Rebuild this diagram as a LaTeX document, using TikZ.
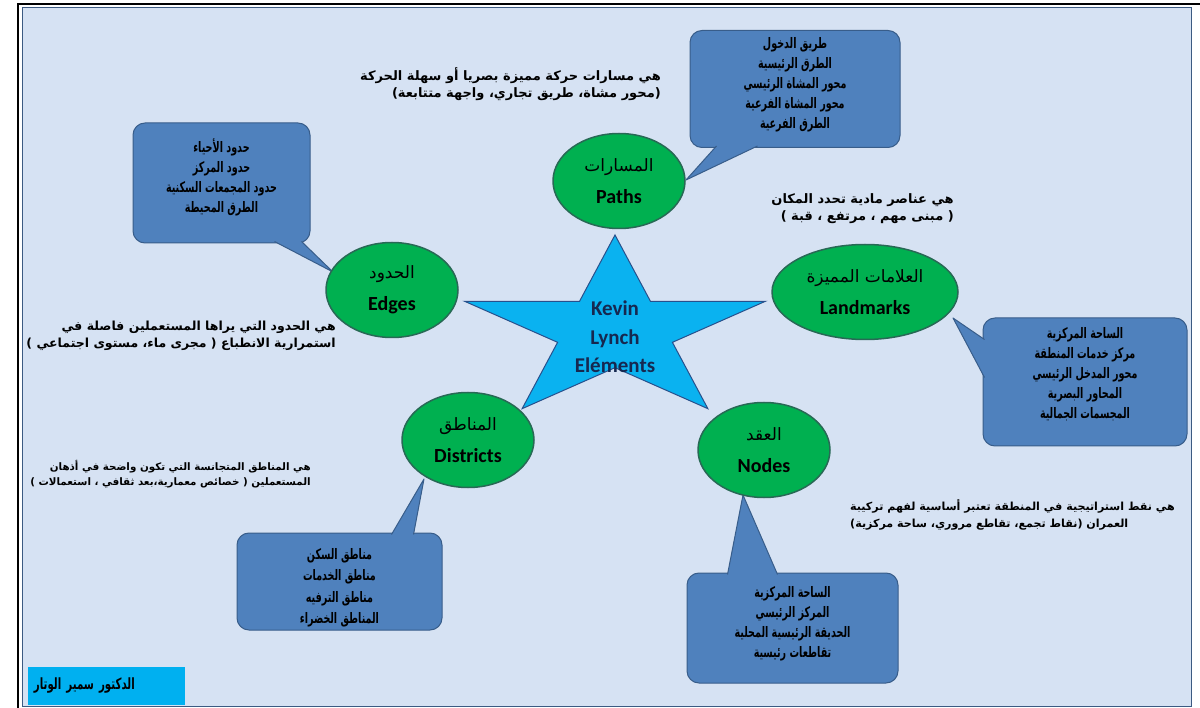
\documentclass[tikz,border=0pt]{standalone}
\usepackage{fontspec}
\setmainfont{Carlito}
\newfontfamily\arabicfont[Script=Arabic]{DejaVu Sans}
\newfontfamily\arabicnarrow[Script=Arabic, FakeStretch=0.66]{DejaVu Sans}
\TeXXeTstate=1
\usetikzlibrary{shapes.geometric}

\newcommand{\ar}[1]{{\arabicfont\beginR #1\endR}}
\newcommand{\arbox}[1]{{\arabicnarrow\beginR #1\endR}}
\newcommand{\arname}[1]{{\fontsize{17}{20}\selectfont\ar{#1}}}

\definecolor{slidebg}{RGB}{214,226,243}
\definecolor{slideline}{RGB}{60,90,130}
\definecolor{elemgreen}{RGB}{0,176,80}
\definecolor{elemline}{RGB}{40,105,85}
\definecolor{boxblue}{RGB}{79,129,189}
\definecolor{boxline}{RGB}{56,93,138}
\definecolor{starblue}{RGB}{10,178,240}
\definecolor{starline}{RGB}{40,80,140}
\definecolor{startext}{RGB}{22,40,80}
\definecolor{labelcyan}{RGB}{0,176,240}

\tikzset{
  element/.style={ellipse, draw=elemline, line width=1.5pt, fill=elemgreen,
    minimum width=132pt, minimum height=95pt, inner sep=0pt, align=center,
    font=\fontsize{20}{24}\selectfont},
  infobox/.style={draw=boxline, line width=1pt, fill=boxblue, rounded corners=12pt,
    align=center, inner sep=0pt, font=\bfseries\fontsize{14.5}{20}\selectfont},
  infotip/.style={fill=boxblue},
  infoedge/.style={draw=boxline, line width=1pt, line join=round},
  desc/.style={inner sep=0pt, font=\bfseries\fontsize{13}{17}\selectfont},
}

\begin{document}
\begin{tikzpicture}[x=1pt, y=-1pt]
  \useasboundingbox (0,0) rectangle (1200,708);

  % page frame and slide
  \draw[line width=2pt] (18,708) -- (18,4) -- (1200,4);
  \draw[slideline, fill=slidebg] (22,7) rectangle (1191,706);

  % callout boxes
  \node[infobox, minimum width=210pt, minimum height=117pt, text depth=12pt] (pathsbox) at (795,89)
    {\arbox{طريق الدخول}\\\arbox{الطرق الرئيسية}\\\arbox{محور المشاة الرئيسي}\\\arbox{محور المشاة الفرعية}\\\arbox{الطرق الفرعية}};
  \node[infobox, minimum width=177pt, minimum height=120pt, text depth=14pt] (edgesbox) at (221.5,183)
    {\arbox{حدود الأحياء}\\\arbox{حدود المركز}\\\arbox{حدود المجمعات السكنية}\\\arbox{الطرق المحيطة}};
  \node[infobox, minimum width=204pt, minimum height=128pt, text depth=18pt] (lmbox) at (1085,382)
    {\arbox{الساحة المركزية}\\\arbox{مركز خدمات المنطقة}\\\arbox{محور المدخل الرئيسي}\\\arbox{المحاور البصرية}\\\arbox{المجسمات الجمالية}};
  \node[infobox, minimum width=205pt, minimum height=97pt, text height=88pt,
    font=\bfseries\fontsize{14.5}{21.5}\selectfont] (distbox) at (339.5,581.5)
    {\arbox{مناطق السكن}\\\arbox{مناطق الخدمات}\\\arbox{مناطق الترفيه}\\\arbox{المناطق الخضراء}};
  \node[infobox, minimum width=211pt, minimum height=110pt, text depth=12pt] (nodesbox) at (792.5,628)
    {\arbox{الساحة المركزية}\\\arbox{المركز الرئيسي}\\\arbox{الحديقة الرئيسية المحلية}\\\arbox{تقاطعات رئيسية}};

  % callout pointers
  \coordinate (pathsA) at ([xshift=27pt,yshift=2pt]pathsbox.south west);
  \coordinate (pathsB) at ([xshift=68pt,yshift=2pt]pathsbox.south west);
  \coordinate (pathstip) at (686,180);
  \coordinate (edgesA) at ([xshift=-36pt,yshift=2pt]edgesbox.south east);
  \coordinate (edgesB) at ([xshift=-9pt,yshift=2pt]edgesbox.south east);
  \coordinate (edgestip) at (333,272);
  \coordinate (lmA) at ([xshift=2pt,yshift=-22pt]lmbox.north west);
  \coordinate (lmB) at ([xshift=2pt,yshift=-60pt]lmbox.north west);
  \coordinate (lmtip) at (953,318);
  \coordinate (distA) at ([xshift=155pt,yshift=-2pt]distbox.north west);
  \coordinate (distB) at ([xshift=177pt,yshift=-2pt]distbox.north west);
  \coordinate (disttip) at (424,479);
  \coordinate (nodesA) at ([xshift=41pt,yshift=-2pt]nodesbox.north west);
  \coordinate (nodesB) at ([xshift=91pt,yshift=-2pt]nodesbox.north west);
  \coordinate (nodestip) at (743,495);
  \foreach \p in {paths,edges,lm,dist,nodes} {
    \fill[infotip] (\p A) -- (\p tip) -- (\p B) -- cycle;
    \draw[infoedge] (\p A) -- (\p tip) -- (\p B);
  }

  % descriptions
  \node[desc, anchor=east, align=right] (pathsdesc) at (661,84)
    {\ar{هي مسارات حركة مميزة بصريا أو سهلة الحركة}\\\ar{(محور مشاة، طريق تجاري، واجهة متتابعة)}};
  \node[desc, anchor=east, align=right, font=\bfseries\fontsize{12.5}{17}\selectfont] (edgesdesc) at (336,336)
    {\ar{هي الحدود التي يراها المستعملين فاصلة في}\\\ar{استمرارية الانطباع ( مجرى ماء، مستوى اجتماعي )}};
  \node[desc, anchor=east, align=right] (lmdesc) at (954,209)
    {\ar{هي عناصر مادية تحدد المكان}\\\ar{( مبنى مهم ، مرتفع ، قبة )}};
  \node[desc, anchor=east, align=right, font=\bfseries\fontsize{10.3}{15}\selectfont] (distdesc) at (311,474.5)
    {\ar{هي المناطق المتجانسة التي تكون واضحة في أذهان}\\\ar{المستعملين ( خصائص معمارية،بعد ثقافي ، استعمالات )}};
  \node[desc, anchor=west, align=left, font=\bfseries\fontsize{11.1}{17}\selectfont] (nodesdesc) at (850,515)
    {\ar{هي نقط استراتيجية في المنطقة تعتبر أساسية لفهم تركيبة}\\\ar{العمران (نقاط تجمع، تقاطع مروري، ساحة مركزية)}};

  % central star
  \begin{scope}[shift={(615,331)}, x=158pt, y=96pt]
    \draw[fill=starblue, draw=starline, line width=1pt] (90:1)
      \foreach \k in {0,...,4} { -- ({126+72*\k}:0.382) -- ({162+72*\k}:1) } -- cycle;
  \end{scope}
  \node[font=\bfseries\fontsize{21}{28.5}\selectfont, text=startext, align=center] (lynch) at (615,337)
    {Kevin\\Lynch\\Eléments};

  % the five elements
  \node[element] (paths) at (619,181) {\arname{المسارات}\\[8pt]\textbf{Paths}};
  \node[element] (edges) at (392,290) {\arname{الحدود}\\[8pt]\textbf{Edges}};
  \node[element, minimum width=186pt] (landmarks) at (865,292) {\arname{العلامات المميزة}\\[8pt]\textbf{Landmarks}};
  \node[element] (districts) at (468,440) {\arname{المناطق}\\[8pt]\textbf{Districts}};
  \node[element] (nodes) at (764,450) {\arname{العقد}\\[8pt]\textbf{Nodes}};

  % author label
  \node[fill=labelcyan, minimum width=157pt, minimum height=38pt, text width=145pt, align=left,
    inner sep=0pt, font=\bfseries\fontsize{15.5}{18}\selectfont] (author) at (106.5,686)
    {\arbox{الدكتور سمير الوتار}};
\end{tikzpicture}
\end{document}
